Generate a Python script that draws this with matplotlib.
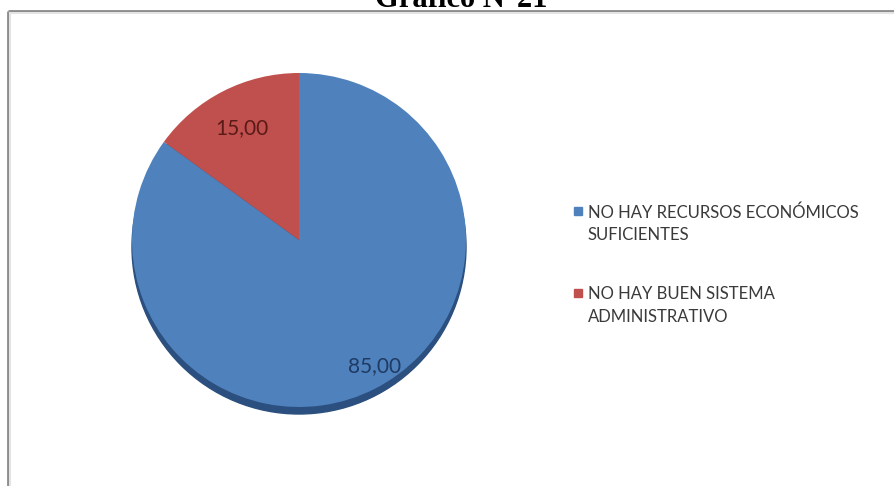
import matplotlib.pyplot as plt
from matplotlib.patches import Circle, Rectangle
import numpy as np

categories = ["NO HAY RECURSOS ECONÓMICOS\nSUFICIENTES",
              "NO HAY BUEN SISTEMA\nADMINISTRATIVO"]
values = [85.00, 15.00]
value_labels = ["85,00", "15,00"]
colors = ["#4F81BD", "#C0504D"]
label_colors = ["#1F3B63", "#5A1A18"]
title = "Gráfico N°21"

W, H = 895, 486
fig = plt.figure(figsize=(W / 100, H / 100), dpi=100)
ax = fig.add_axes([0, 0, 1, 1])

cx, cy, r = 299, H - 240, 167

# dark rim under the pie (fake 3d look)
ax.add_patch(Circle((cx, cy - 7), r, color="#2B4F7E", zorder=1))

wedges, _ = ax.pie(values, colors=colors, startangle=90, counterclock=False,
                   center=(cx, cy), radius=r,
                   wedgeprops=dict(linewidth=0, zorder=2))

# value labels inside the slices
label_dist = [0.88, 0.75]
for w, lab, col, d in zip(wedges, value_labels, label_colors, label_dist):
    ang = np.deg2rad((w.theta1 + w.theta2) / 2 + 4 * (d > 0.8))
    ax.text(cx + d * r * np.cos(ang), cy + d * r * np.sin(ang), lab,
            ha="center", va="center", fontsize=15, family="Lato",
            color=col, zorder=3)

ax.set_xlim(0, W)
ax.set_ylim(0, H)
ax.set_aspect("auto")
ax.axis("off")

# legend drawn by hand so the marker sits on the first line
leg_x, leg_y0, leg_step = 578, H - 211, 82
for i, (lab, col) in enumerate(zip(categories, colors)):
    y = leg_y0 - i * leg_step
    ax.add_patch(Rectangle((leg_x - 4, y - 4), 8, 8, color=col, zorder=3))
    ax.text(leg_x + 10, y + 7, lab, ha="left", va="top", fontsize=12,
            family="Lato", color="#3A3A3A", linespacing=1.5, zorder=3)

# frame of the chart area
ax.plot([8, 8], [0, H - 11], color="#8A8A8A", lw=2, solid_capstyle="butt")
ax.plot([8, W], [H - 11, H - 11], color="#8A8A8A", lw=2, solid_capstyle="butt")
ax.plot([10, W], [H - 13, H - 13], color="#E4E4E4", lw=1.5)
ax.plot([10, 10], [0, H - 13], color="#E4E4E4", lw=1.5)

# title, mostly cut off at the top like in the scan
fig.text(461 / W, 1 - 7 / H, title, ha="center", va="baseline",
         fontsize=22, fontweight="bold", family="Liberation Serif")

fig.savefig("out.png", dpi=100)
